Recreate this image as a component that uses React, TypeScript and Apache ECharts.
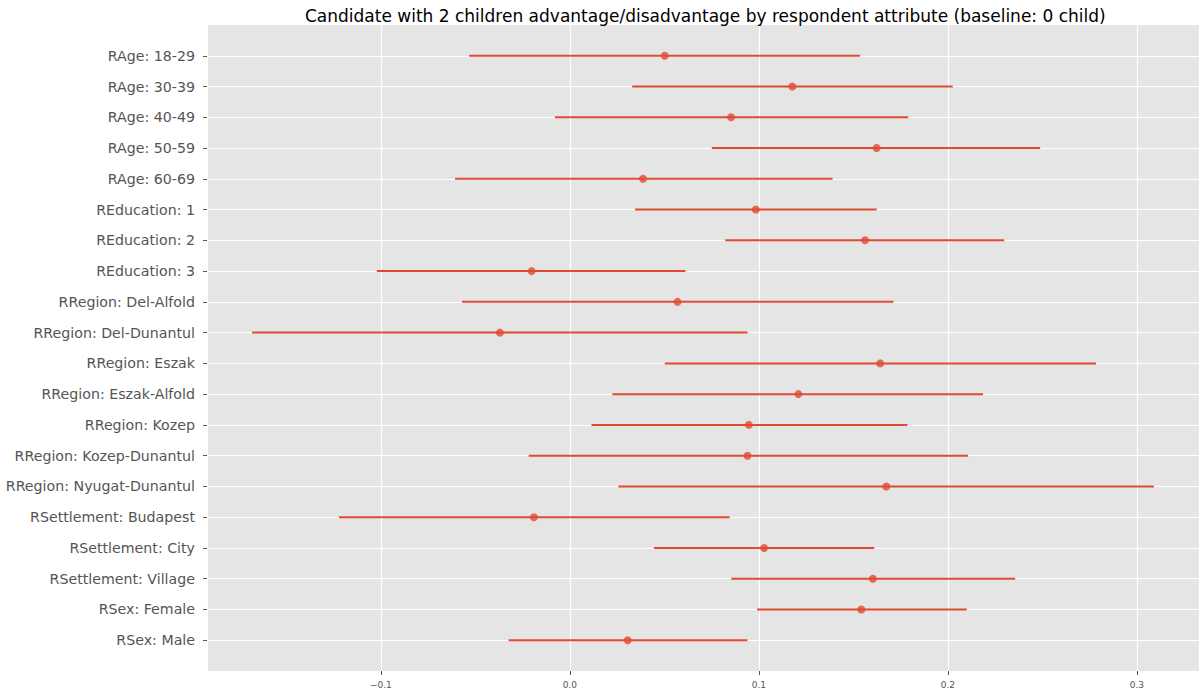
import React, { useEffect, useRef } from "react";
import * as echarts from "echarts";

const categories = [
  "RAge: 18-29",
  "RAge: 30-39",
  "RAge: 40-49",
  "RAge: 50-59",
  "RAge: 60-69",
  "REducation: 1",
  "REducation: 2",
  "REducation: 3",
  "RRegion: Del-Alfold",
  "RRegion: Del-Dunantul",
  "RRegion: Eszak",
  "RRegion: Eszak-Alfold",
  "RRegion: Kozep",
  "RRegion: Kozep-Dunantul",
  "RRegion: Nyugat-Dunantul",
  "RSettlement: Budapest",
  "RSettlement: City",
  "RSettlement: Village",
  "RSex: Female",
  "RSex: Male",
];

const estimates = [
  0.0502, 0.1177, 0.0853, 0.1623, 0.0387, 0.0984, 0.1562, -0.0202, 0.057, -0.037,
  0.1642, 0.1209, 0.0947, 0.094, 0.1674, -0.019, 0.1028, 0.1603, 0.1542, 0.0306,
];

const lowerBounds = [
  -0.0533, 0.033, -0.0079, 0.0751, -0.0607, 0.0345, 0.0822, -0.1021, -0.057, -0.1681,
  0.0502, 0.0225, 0.0115, -0.0218, 0.0257, -0.1221, 0.0445, 0.0854, 0.0991, -0.0324,
];

const upperBounds = [
  0.1536, 0.2026, 0.179, 0.2488, 0.139, 0.1623, 0.2298, 0.0612, 0.1712, 0.094,
  0.2784, 0.2186, 0.1786, 0.2107, 0.309, 0.0846, 0.161, 0.2356, 0.21, 0.094,
];

const xTickValues = [-0.1, 0.0, 0.1, 0.2, 0.3];

const TITLE =
  "Candidate with 2 children advantage/disadvantage by respondent attribute (baseline: 0 child)";

export default function App() {
  const ref = useRef<HTMLDivElement>(null);

  useEffect(() => {
    if (!ref.current) return;
    const chart = echarts.init(ref.current, undefined, { renderer: "svg" });
    const yData = ["", ...categories, " "];
    const n = yData.length;
    const isReal = (i: number) => i > 0 && i < n - 1;

    const barData = categories.map((_, i) => [lowerBounds[i], upperBounds[i], i + 1]);
    const pointData = categories.map((_, i) => [estimates[i], i + 1]);

    const lo = Math.min(...lowerBounds);
    const hi = Math.max(...upperBounds);
    const margin = (hi - lo) * 0.05;

    const color = "#E24A33";
    const font = "DejaVu Sans";

    chart.setOption({
      animation: false,
      backgroundColor: "#ffffff",
      title: {
        text: TITLE,
        left: 300,
        top: 2,
        textStyle: { fontFamily: font, fontSize: 17, fontWeight: "normal", color: "#000000" },
      },
      grid: {
        left: 207,
        right: 0,
        top: 25,
        bottom: 23,
        show: true,
        backgroundColor: "#E5E5E5",
        borderWidth: 0,
      },
      xAxis: {
        type: "value",
        min: lo - margin,
        max: hi + margin,
        splitNumber: 5,
        axisLine: { show: false, onZero: false },
        axisTick: { show: true, length: 4, lineStyle: { color: "#555555" } },
        splitLine: { show: true, lineStyle: { color: "#ffffff", width: 1.2 } },
        axisLabel: {
          showMinLabel: false,
          showMaxLabel: false,
          margin: 9,
          fontFamily: font,
          fontSize: 9,
          color: "#555555",
          formatter: (v: number) => {
            const hit = xTickValues.find((t) => Math.abs(t - v) < 1e-9);
            if (hit === undefined) return "";
            return hit < 0 ? "\u2212" + Math.abs(hit).toFixed(1) : hit.toFixed(1);
          },
        },
      },
      yAxis: {
        type: "category",
        data: yData,
        inverse: true,
        boundaryGap: false,
        axisLine: { show: false, onZero: false },
        axisTick: {
          show: true,
          length: 4,
          interval: (i: number) => isReal(i),
          lineStyle: { color: "#555555" },
        },
        splitLine: {
          show: true,
          interval: (i: number) => isReal(i),
          lineStyle: { color: "#ffffff", width: 1.2 },
        },
        axisLabel: {
          interval: 0,
          margin: 12,
          fontFamily: font,
          fontSize: 14.2,
          color: "#555555",
        },
      },
      series: [
        {
          type: "custom",
          data: barData,
          encode: { x: [0, 1], y: 2 },
          z: 2,
          renderItem: (params: any, api: any) => {
            const y = api.value(2);
            const p1 = api.coord([api.value(0), y]);
            const p2 = api.coord([api.value(1), y]);
            return {
              type: "line",
              shape: { x1: p1[0], y1: p1[1], x2: p2[0], y2: p2[1] },
              style: { stroke: color, lineWidth: 2 },
            };
          },
        },
        {
          type: "scatter",
          data: pointData,
          symbol: "circle",
          symbolSize: 8,
          itemStyle: { color: color },
          z: 3,
        },
      ],
    });

    return () => chart.dispose();
  }, []);

  return (
    <div
      ref={ref}
      style={{ position: "fixed", left: 0, top: 0, width: 1199, height: 694 }}
    />
  );
}
